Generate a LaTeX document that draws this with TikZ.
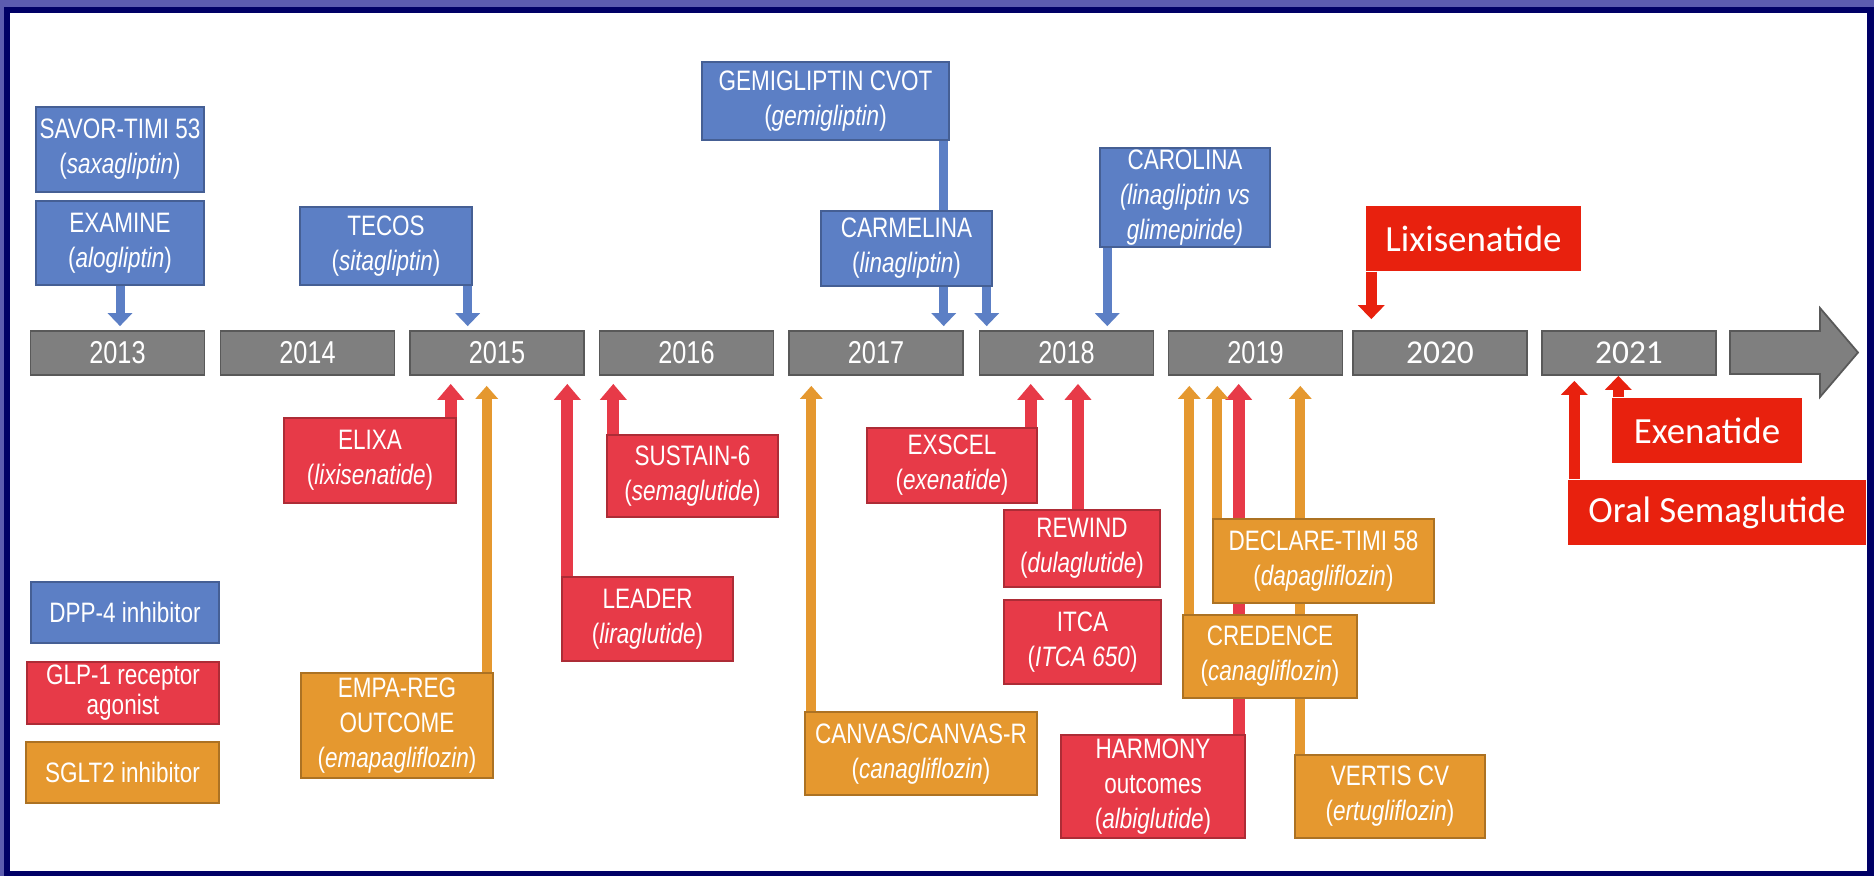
\documentclass[tikz,border=0pt]{standalone}
\usepackage{fontspec}
\setmainfont{Liberation Sans}[FakeStretch=0.8]
\newfontfamily\calfont{Carlito}
\usetikzlibrary{arrows.meta,calc}

\definecolor{dppblue}{RGB}{92,127,197}
\definecolor{glpred}{RGB}{231,58,72}
\definecolor{sgltorange}{RGB}{229,152,47}
\definecolor{newred}{RGB}{232,33,14}
\definecolor{bargray}{RGB}{127,127,127}
\definecolor{framenavy}{RGB}{0,0,102}
\definecolor{framelight}{RGB}{92,92,176}

\begin{document}
\begin{tikzpicture}[
x=0.1mm, y=-0.1mm,
every node/.style={
text=white,
inner sep=0pt,
align=center,
font=\fontsize{8}{10}\selectfont
},
colbox/.style={fill=#1, draw=#1!75!black, line width=0.4pt},
dppbox/.style={colbox=dppblue},
glpbox/.style={colbox=glpred},
sgltbox/.style={colbox=sgltorange},
newbox/.style={fill=newred, font=\calfont\fontsize{10.5}{12}\selectfont},
yearbar/.style={
fill=bargray, draw=bargray!70!black, line width=0.5pt,
minimum width=17.4mm, minimum height=4.4mm,
font=\fontsize{9}{11}\selectfont
},
dpparrow/.style={draw=dppblue, line width=0.9mm,
-{Triangle[width=2.4mm,length=1.3mm]}, shorten >=0.4mm},
glparrow/.style={draw=glpred, line width=1.2mm,
-{Triangle[width=2.6mm,length=1.6mm]}, shorten >=0.8mm},
sgltarrow/.style={draw=sgltorange, line width=1mm,
-{Triangle[width=2.2mm,length=1.3mm]}, shorten >=1mm},
newarrow/.style={draw=newred, line width=1.1mm,
-{Triangle[width=2.6mm,length=1.4mm]}}
]

\useasboundingbox (0,0) rectangle (1874,876);
\fill[framelight] (0,0) rectangle (1874,876);
\fill[framenavy] (4,7) rectangle (1874,876);
\fill[white] (10,13) rectangle (1867,871);

\node[yearbar] (y2013) at (117.5,353) {2013};
\node[yearbar] (y2014) at (307.5,353) {2014};
\node[yearbar] (y2015) at (497,353) {2015};
\node[yearbar] (y2016) at (686.5,353) {2016};
\node[yearbar] (y2017) at (876,353) {2017};
\node[yearbar] (y2018) at (1066.5,353) {2018};
\node[yearbar] (y2019) at (1255.5,353) {2019};
\node[yearbar, font=\calfont\fontsize{9.5}{11}\selectfont] (y2020) at (1440,353) {2020};
\node[yearbar, font=\calfont\fontsize{9.5}{11}\selectfont] (y2021) at (1629,353) {2021};

\filldraw[fill=bargray, draw=bargray!70!black, line width=0.5pt]
(1730,331) -- (1820,331) -- (1820,308) -- (1858,352.5)
-- (1820,397) -- (1820,374) -- (1730,374) -- cycle;

\node[dppbox, minimum width=16.8mm, minimum height=8.5mm] (savor) at (120,149.5)
{SAVOR-TIMI 53\\(\textit{saxagliptin})};

\node[dppbox, minimum width=16.8mm, minimum height=8.4mm] (examine) at (120,243)
{EXAMINE\\(\textit{alogliptin})};

\node[dppbox, minimum width=17.2mm, minimum height=7.8mm] (tecos) at (386,246)
{TECOS\\(\textit{sitagliptin})};

\node[dppbox, minimum width=24.7mm, minimum height=7.8mm] (gemi) at (825.5,101)
{GEMIGLIPTIN CVOT\\(\textit{gemigliptin})};

\coordinate (gemiA) at ($(gemi.south east)+(-6,0)$);
\draw[dpparrow] (gemiA) -- (gemiA |- y2017.north);

\node[dppbox, minimum width=17.1mm, minimum height=7.5mm] (carmelina) at (906.5,248.5)
{CARMELINA\\(\textit{linagliptin})};

\node[dppbox, minimum width=17mm, minimum height=9.9mm] (carolina) at (1185,197.5)
{CAROLINA\\\textit{(linagliptin vs}\\\textit{glimepiride)}};

\coordinate (tecosA) at ($(tecos.south east)+(-5,0)$);
\coordinate (carmA) at ($(carmelina.south east)+(-6,0)$);
\coordinate (caroA) at ($(carolina.south west)+(8,0)$);

\draw[dpparrow] (examine.south) -- (examine.south |- y2013.north);
\draw[dpparrow] (tecosA) -- (tecosA |- y2015.north);
\draw[dpparrow] (carmA) -- (carmA |- y2018.north);
\draw[dpparrow] (caroA) -- (caroA |- y2018.north);

\node[glpbox, minimum width=17.2mm, minimum height=8.5mm] (elixa) at (370,460.5)
{ELIXA\\(\textit{lixisenatide})};

\node[glpbox, minimum width=17.1mm, minimum height=8.4mm] (leader) at (647.5,619)
{LEADER\\(\textit{liraglutide})};

\node[glpbox, minimum width=17.1mm, minimum height=8.2mm] (sustain) at (692.5,476)
{SUSTAIN-6\\(\textit{semaglutide})};

\node[glpbox, minimum width=17mm, minimum height=7.5mm] (exscel) at (952,465.5)
{EXSCEL\\(\textit{exenatide})};

\node[glpbox, minimum width=15.6mm, minimum height=7.7mm] (rewind) at (1082,548.5)
{REWIND\\(\textit{dulaglutide})};

\node[glpbox, minimum width=15.7mm, minimum height=8.4mm] (itca) at (1082.5,642)
{ITCA\\(\textit{ITCA 650})};

\node[glpbox, minimum width=18.4mm, minimum height=10.3mm] (harmony) at (1153,786.5)
{HARMONY\\outcomes\\(\textit{albiglutide})};

\coordinate (elixaA) at ($(elixa.north east)+(-6,0)$);
\coordinate (leaderA) at ($(leader.north west)+(6,0)$);
\coordinate (sustainA) at ($(sustain.north west)+(7,0)$);
\coordinate (exscelA) at ($(exscel.north east)+(-7,0)$);
\coordinate (rewindA) at ($(rewind.north)+(-4,0)$);
\coordinate (harmonyA) at ($(harmony.north east)+(-7,0)$);

\draw[glparrow] (elixaA) -- (elixaA |- y2015.south);
\draw[glparrow] (leaderA) -- (leaderA |- y2015.south);
\draw[glparrow] (sustainA) -- (sustainA |- y2016.south);
\draw[glparrow] (exscelA) -- (exscelA |- y2018.south);
\draw[glparrow] (rewindA) -- (rewindA |- y2018.south);
\draw[glparrow] (harmonyA) -- (harmonyA |- y2019.south);

\node[sgltbox, minimum width=19.2mm, minimum height=10.5mm] (empa) at (397,725.5)
{EMPA-REG\\OUTCOME\\(\textit{emapagliflozin})};

\node[sgltbox, minimum width=23.2mm, minimum height=8.3mm] (canvas) at (921,753.5)
{CANVAS/CANVAS-R\\(\textit{canagliflozin})};

\node[sgltbox, minimum width=19mm, minimum height=8.3mm] (vertis) at (1390,796.5)
{VERTIS CV\\(\textit{ertugliflozin})};

\coordinate (empaA) at ($(empa.north east)+(-7,0)$);
\coordinate (canvasA) at ($(canvas.north west)+(7,0)$);
\coordinate (vertisA) at ($(vertis.north west)+(6,0)$);

\draw[sgltarrow] (empaA) -- (empaA |- y2015.south);
\draw[sgltarrow] (canvasA) -- (canvasA |- y2017.south);
\draw[sgltarrow] (vertisA) -- (vertisA |- y2019.south);

\node[sgltbox, minimum width=22.1mm, minimum height=8.4mm] (declare) at (1323.5,561)
{DECLARE-TIMI 58\\(\textit{dapagliflozin})};

\node[sgltbox, minimum width=17.4mm, minimum height=8.3mm] (credence) at (1270,656.5)
{CREDENCE\\(\textit{canagliflozin})};

\coordinate (declareA) at ($(declare.north west)+(5,0)$);
\coordinate (credenceA) at ($(credence.north west)+(7,0)$);

\draw[sgltarrow] (declareA) -- (declareA |- y2019.south);
\draw[sgltarrow] (credenceA) -- (credenceA |- y2019.south);

\node[newbox, minimum width=21.5mm, minimum height=6.5mm] (lixi) at (1473.5,238.5)
{Lixisenatide};

\node[newbox, minimum width=19mm, minimum height=6.5mm] (exen) at (1707,430.5)
{Exenatide};

\node[newbox, minimum width=29.8mm, minimum height=6.5mm] (oral) at (1717,512.5)
{Oral Semaglutide};

\coordinate (lixiA) at ($(lixi.south west)+(6,0)$);
\coordinate (exenA) at ($(exen.north west)+(7,0)$);
\coordinate (oralA) at ($(oral.north west)+(7,0)$);

\draw[newarrow, shorten >=1.1mm] (lixiA) -- (lixiA |- y2020.north);
\draw[newarrow] (exenA) -- (exenA |- y2021.south);
\draw[newarrow, shorten >=0.5mm] (oralA) -- (oralA |- y2021.south);

\node[dppbox, minimum width=18.8mm, minimum height=6.1mm] (legdpp) at (125,612.5)
{DPP-4 inhibitor};

\node[glpbox, minimum width=19.2mm, minimum height=6.2mm,
font=\fontsize{8}{8.5}\selectfont] (legglp) at (123,693)
{GLP-1 receptor\\agonist};

\node[sgltbox, minimum width=19.3mm, minimum height=6.1mm] (legsglt) at (122.5,772.5)
{SGLT2 inhibitor};

\end{tikzpicture}
\end{document}
